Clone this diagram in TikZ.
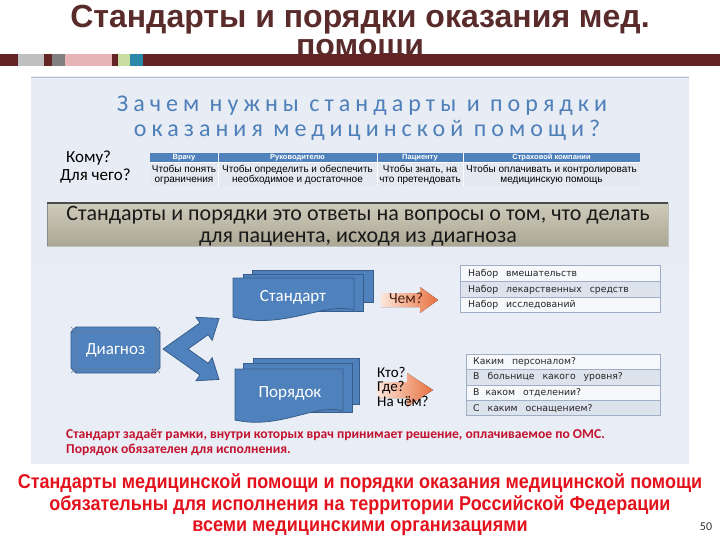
\documentclass[tikz,border=0pt]{standalone}
\usepackage{fontspec}
\setmainfont{Carlito}
\newfontfamily\arialf{Liberation Sans}
\newfontfamily\narrowf[FakeStretch=0.9]{Liberation Sans}
\newfontfamily\verdf{DejaVu Sans}
\newfontfamily\headf[LetterSpace=21]{Carlito}
\definecolor{barred}{HTML}{622424}
\definecolor{titlecol}{HTML}{5A2B2B}
\definecolor{segA}{HTML}{C0C0C0}
\definecolor{segB}{HTML}{808080}
\definecolor{segC}{HTML}{E6B4B6}
\definecolor{segD}{HTML}{C8DCA0}
\definecolor{segE}{HTML}{2A88A8}
\definecolor{panelTop}{HTML}{E8EDF5}
\definecolor{panelMid}{HTML}{BFD0EA}
\definecolor{panelBot}{HTML}{E9EEF6}
\definecolor{panelLine}{HTML}{B4C0D4}
\definecolor{blueA}{HTML}{4F81BD}
\definecolor{blueB}{HTML}{385D8A}
\definecolor{tblbody}{HTML}{E4E9F1}
\definecolor{listbord}{HTML}{9DAEC6}
\definecolor{listA}{HTML}{F6F8FB}
\definecolor{listB}{HTML}{DCE3ED}
\definecolor{headcol}{HTML}{4E7FB8}
\definecolor{redA}{HTML}{C3122E}
\definecolor{redB}{HTML}{E3121C}
\definecolor{grayTop}{HTML}{CFCBBB}
\definecolor{grayBot}{HTML}{ABA794}
\definecolor{arrL}{HTML}{FCE6DA}
\definecolor{arrR}{HTML}{E8703F}
\definecolor{chemcol}{HTML}{4A2010}
\tikzset{
  titletext/.style={font=\arialf\bfseries\fontsize{32}{34}\selectfont, text=titlecol, inner sep=0pt},
  headtext/.style={font=\headf\fontsize{24}{26}\selectfont, text=headcol, inner sep=0pt},
  asktext/.style={font=\fontsize{17}{18}\selectfont, text=black, inner sep=0pt, anchor=base west},
  qtext/.style={font=\fontsize{15}{16}\selectfont, text=black, inner sep=0pt, anchor=base west},
  thead/.style={font=\arialf\bfseries\fontsize{7.5}{8}\selectfont, text=white, inner sep=0pt},
  tbody/.style={font=\arialf\fontsize{10}{10}\selectfont, text=black, inner sep=0pt, align=center},
  boxtext/.style={font=\fontsize{22}{24}\selectfont, text=black!90, inner sep=0pt, anchor=base},
  shapefill/.style={fill=blueA, draw=blueB, line width=0.8pt},
  doctext/.style={font=\fontsize{17}{18}\selectfont, text=white, inner sep=0pt},
  orangearrow/.style={left color=arrL, right color=arrR, draw=none},
  listtext/.style={font=\verdf\fontsize{9.3}{10}\selectfont, text=black!85, inner sep=0pt, anchor=west},
  listA/.style={fill=listA, draw=listbord, line width=0.8pt},
  listB/.style={fill=listB, draw=listbord, line width=0.8pt},
  redsmall/.style={font=\bfseries\fontsize{13.6}{14}\selectfont, text=redA, inner sep=0pt, anchor=base west},
  redbig/.style={font=\narrowf\bfseries\fontsize{20}{21}\selectfont, text=redB, inner sep=0pt, anchor=base}
}
\begin{document}
\begin{tikzpicture}[x=1pt,y=-1pt]
\useasboundingbox (0,0) rectangle (720,540);
\fill[white] (0,0) rectangle (720,540);
% title
\node[titletext,anchor=base] (t1) at (360,28) {Стандарты и порядки оказания мед.};
\node[titletext,anchor=base] (t2) at (360,57) {помощи};
% bar
\fill[barred] (0,54.5) rectangle (720,66);
\fill[segA] (18,54.5) rectangle (44,66);
\fill[segB] (52,54.5) rectangle (64.5,66);
\fill[segC] (64.5,54.5) rectangle (112.3,66);
\fill[segD] (117.7,54.5) rectangle (130,66);
\fill[segE] (130,54.5) rectangle (142.7,66);
% panel
\fill[top color=panelTop, middle color=panelMid, bottom color=panelBot] (31,77) rectangle (689,463);
\draw[panelLine, line width=0.8pt] (31,77) -- (689,77);
% heading
\node[headtext,anchor=base] (hd1) at (362,112) {Зачем нужны стандарты и порядки};
\node[headtext,anchor=base] (hd2) at (367,137) {оказания медицинской помощи?};
% who / why
\node[asktext] (kom) at (66,163) {Кому?};
\node[asktext] (dlc) at (60,181) {Для чего?};
% table
\fill[blueA] (150,153) rectangle (640,162.5);
\fill[tblbody] (150,162.5) rectangle (640,186);
\draw[white, line width=1pt] (218,153) -- (218,186) (377,153) -- (377,186) (463,153) -- (463,186) (150,162.5) -- (640,162.5);
\node[thead] (h1) at (184,157.9) {Врачу};
\node[thead] (h2) at (297.5,157.9) {Руководителю};
\node[thead] (h3) at (420,157.9) {Пациенту};
\node[thead] (h4) at (551.5,157.9) {Страховой компании};
\node[tbody] (b1) at (184,174.5) {Чтобы понять\\ограничения};
\node[tbody] (b2) at (297.5,174.5) {Чтобы определить и обеспечить\\необходимое и достаточное};
\node[tbody] (b3) at (420,174.5) {Чтобы знать, на\\что претендовать};
\node[tbody] (b4) at (551.5,174.5) {Чтобы оплачивать и контролировать\\медицинскую помощь};
% gray box
\shade[top color=grayTop, bottom color=grayBot] (47,203) rectangle (668,246);
\draw[black!25, line width=1pt] (47,246) -- (668,246) -- (668,203);
\draw[black!45, line width=1pt] (47,246) -- (47,203);
\draw[black!70, line width=2pt] (47,203) -- (668,203);
\node[boxtext] (g1) at (358,221) {Стандарты и порядки это ответы на вопросы о том, что делать};
\node[boxtext] (g2) at (358,242) {для пациента, исходя из диагноза};
% diagnoz
\draw[shapefill] (76,327) -- (155,327) -- (160,332) -- (160,368) -- (155,373) -- (76,373) -- (71,368) -- (71,332) -- cycle;
\draw[blueB!80, line width=0.6pt] (75,331) rectangle (156,369);
\draw[blueB!80, line width=0.6pt] (71,327) -- (75,331) (160,327) -- (156,331) (160,373) -- (156,369) (71,373) -- (75,369);
\node[doctext] (diag) at (115.5,350) {Диагноз};
% chevron
\draw[shapefill, line join=miter] (163,349) -- (200,322.9) -- (196,317.3) -- (219,318.5) -- (212.2,340.3) -- (208.2,334.7) -- (188,349)
  -- (208.2,363.3) -- (212.2,357.7) -- (219,379.5) -- (196,380.7) -- (200,375.1) -- cycle;
% standard stack
\draw[shapefill] (252,270) rectangle (373,302);
\draw[shapefill] (243,274) rectangle (363,311);
\draw[shapefill] (233,278) -- (354,278) -- (354,310) .. controls (322,302) and (285,330) .. (233,317) -- cycle;
\node[doctext] (std) at (293,297) {Стандарт};
% poryadok stack
\draw[shapefill] (253,358) rectangle (359,404);
\draw[shapefill] (243,363) rectangle (352,412);
\draw[shapefill] (235,369) -- (343,369) -- (343,411) .. controls (315,403) and (280,430) .. (235,420) -- cycle;
\node[doctext] (por) at (290,393) {Порядок};
% orange arrows
\fill[orangearrow] (381,293) -- (420,293) -- (420,287) -- (438,300) -- (420,313) -- (420,307) -- (381,307) -- cycle;
\node[font=\fontsize{15.5}{16}\selectfont, text=chemcol, inner sep=0pt] (chem) at (406,298) {Чем?};
\fill[orangearrow] (377,382) -- (407,382) -- (407,373) -- (433,390) -- (407,407) -- (407,398) -- (377,398) -- cycle;
\node[qtext] (kto) at (377,377) {Кто?};
\node[qtext] (gde) at (377,391.5) {Где?};
\node[qtext] (nach) at (377,406) {На чём?};
% list 1
\draw[listA] (460.7,265.7) rectangle (660,281.7);
\draw[listB] (460.7,281.7) rectangle (660,297);
\draw[listA] (460.7,297) rectangle (660,312.3);
\node[listtext] (l1) at (468,273.7) {Набор\hspace{5pt} вмешательств};
\node[listtext] (l2) at (468,289.4) {Набор\hspace{5pt} лекарственных\hspace{5pt} средств};
\node[listtext] (l3) at (468,304.7) {Набор\hspace{5pt} исследований};
% list 2
\draw[listA] (466.7,354) rectangle (660.7,369.3);
\draw[listB] (466.7,369.3) rectangle (660.7,385);
\draw[listA] (466.7,385) rectangle (660.7,400.7);
\draw[listB] (466.7,400.7) rectangle (660.7,415.7);
\node[listtext] (m1) at (473,361.7) {Каким\hspace{5pt} персоналом?};
\node[listtext] (m2) at (473,377.2) {В\hspace{5pt} больнице\hspace{5pt} какого\hspace{5pt} уровня?};
\node[listtext] (m3) at (473,392.9) {В\hspace{3pt} каком\hspace{5pt} отделении?};
\node[listtext] (m4) at (473,408.2) {С\hspace{5pt} каким\hspace{5pt} оснащением?};
% red panel text
\node[redsmall] (r1) at (66,438.5) {Стандарт задаёт рамки, внутри  которых врач принимает решение,  оплачиваемое по ОМС.};
\node[redsmall] (r2) at (66,453) {Порядок обязателен для исполнения.};
% bottom text
\node[redbig] (s1) at (360,488) {Стандарты медицинской помощи и порядки оказания медицинской помощи};
\node[redbig] (s2) at (360,510) {обязательны для исполнения на территории Российской Федерации};
\node[redbig] (s3) at (360,531) {всеми медицинскими организациями};
\node[font=\fontsize{12}{13}\selectfont, text=black!80, inner sep=0pt] (pg) at (706,527) {50};
\end{tikzpicture}
\end{document}
